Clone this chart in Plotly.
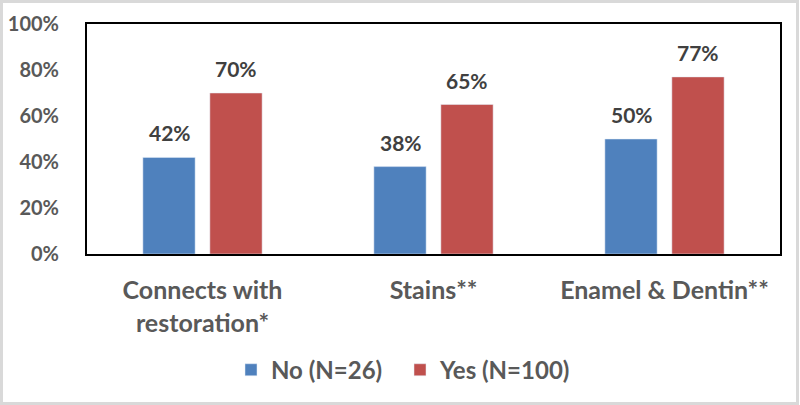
import plotly.graph_objects as go

categories = ["Connects with<br>restoration*", "Stains**", "Enamel & Dentin**"]
no_vals = [42, 38, 50]
yes_vals = [70, 65, 77]
series_names = ["No (N=26)", "Yes (N=100)"]
colors = ["#4F81BD", "#C0504D"]

fnt = "Lato, Open Sans, sans-serif"

fig = go.Figure()
for name, vals, col in zip(series_names, [no_vals, yes_vals], colors):
    fig.add_trace(go.Bar(x=categories, y=vals, name=name, marker_color=col))

# value labels, placed a bit higher above the bars than plotly's default
bar_off = 33
annots = []
for vals, sh in [(no_vals, -bar_off), (yes_vals, bar_off)]:
    for c, v in zip(categories, vals):
        annots.append(dict(x=c, y=v, xref="x", yref="y", text=f"{v}%", showarrow=False,
                           xshift=sh, yshift=10, yanchor="bottom",
                           font=dict(size=21, color="#404040", family=fnt, weight="bold")))

fig.update_layout(
    width=800, height=405,
    margin=dict(l=87, r=20, t=24, b=151, autoexpand=False),
    barmode="group", bargap=0.42, bargroupgap=0.22,
    plot_bgcolor="white", paper_bgcolor="white",
    font=dict(family=fnt, color="#595959", size=20, weight="bold"),
    showlegend=True,
    legend=dict(orientation="h", x=(400 - 87) / 693, xanchor="center",
                y=-0.505, yanchor="middle",
                font=dict(size=24, color="#595959", family=fnt, weight="bold"),
                itemwidth=30, traceorder="normal",
                entrywidth=124, entrywidthmode="pixels"),
    xaxis=dict(showline=True, linecolor="black", linewidth=2, mirror=True,
               tickfont=dict(size=25), ticks="", ticklabelstandoff=13,
               tickangle=0, automargin=False),
    yaxis=dict(range=[0, 100], dtick=20, ticksuffix="%", showgrid=False,
               showline=True, linecolor="black", linewidth=2, mirror=True,
               zeroline=False, tickfont=dict(size=20), ticklabelstandoff=22,
               automargin=False),
    annotations=annots,
    shapes=[dict(type="rect", xref="paper", yref="paper",
                 x0=-85.5/693, x1=1 + 17.5/693,
                 y0=-149.5/230, y1=1 + 22.5/230, line=dict(color="#D9D9D9", width=3))],
)

fig.write_html("out.html", config={"displayModeBar": False},
               post_script="document.body.style.margin='0';")
